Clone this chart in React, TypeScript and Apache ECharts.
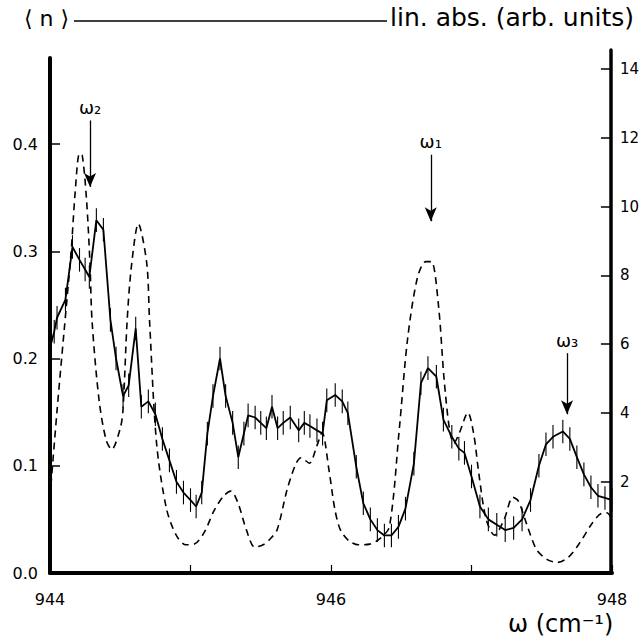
import React, { useEffect, useRef } from "react";
import * as echarts from "echarts";

// Photon-number signal <n> (left axis), sampled points with error bars
const solidX = [
  944.0, 944.03, 944.05, 944.11, 944.16, 944.21, 944.25, 944.28, 944.33, 944.38,
  944.43, 944.47, 944.52, 944.56, 944.61, 944.65, 944.7, 944.75, 944.8, 944.85,
  944.9, 944.95, 945.0, 945.04, 945.08, 945.12, 945.16, 945.21, 945.25, 945.3,
  945.34, 945.38, 945.41, 945.46, 945.5, 945.54, 945.58, 945.62, 945.66, 945.71,
  945.77, 945.81, 945.85, 945.9, 945.94, 945.97, 946.03, 946.08, 946.12, 946.18,
  946.23, 946.28, 946.33, 946.38, 946.43, 946.48, 946.53, 946.59, 946.64, 946.69,
  946.75, 946.8, 946.86, 946.91, 946.95, 947.0, 947.06, 947.12, 947.18, 947.24,
  947.3, 947.36, 947.42, 947.48, 947.53, 947.58, 947.65, 947.7, 947.75, 947.8,
  947.85, 947.9, 947.95, 948.0,
];
const solidY = [
  0.21, 0.225, 0.238, 0.255, 0.304, 0.292, 0.283, 0.276, 0.329, 0.32,
  0.236, 0.2, 0.165, 0.175, 0.228, 0.155, 0.16, 0.148, 0.125, 0.105,
  0.085, 0.075, 0.068, 0.062, 0.075, 0.13, 0.165, 0.2, 0.165, 0.14,
  0.108, 0.13, 0.147, 0.145, 0.14, 0.135, 0.155, 0.135, 0.14, 0.145,
  0.133, 0.14, 0.137, 0.133, 0.13, 0.161, 0.166, 0.16, 0.149, 0.099,
  0.065, 0.05, 0.04, 0.035, 0.035, 0.043, 0.06, 0.102, 0.177, 0.191,
  0.183, 0.143, 0.127, 0.116, 0.112, 0.09, 0.062, 0.05, 0.045, 0.04,
  0.042, 0.05, 0.068, 0.1, 0.12, 0.127, 0.132, 0.125, 0.108, 0.092,
  0.08, 0.072, 0.07, 0.068,
];
const ERR = 0.011;

// Linear absorption (right axis, arb. units)
const dashX = [
  944.0, 944.05, 944.1, 944.15, 944.18, 944.21, 944.23, 944.26, 944.285, 944.3,
  944.35, 944.4, 944.44, 944.5, 944.52, 944.55, 944.58, 944.63, 944.69, 944.71,
  944.76, 944.83, 944.9, 944.97, 945.03, 945.1, 945.17, 945.24, 945.29, 945.34,
  945.4, 945.46, 945.52, 945.57, 945.62, 945.69, 945.75, 945.79, 945.85, 945.9,
  945.94, 945.99, 946.03, 946.07, 946.13, 946.2, 946.28, 946.35, 946.42, 946.49,
  946.55, 946.62, 946.68, 946.72, 946.77, 946.81, 946.85, 946.88, 946.92, 946.98,
  947.02, 947.06, 947.11, 947.17, 947.24, 947.3, 947.34, 947.4, 947.47, 947.55,
  947.62, 947.7, 947.78, 947.86, 947.93, 947.97, 948.0,
];
const dashY = [
  1.55, 4.06, 6.36, 8.66, 10.44, 11.54, 11.49, 10.23, 8.35, 6.67,
  4.37, 3.22, 2.94, 3.54, 4.06, 6.67, 8.24, 9.5, 8.35, 6.67,
  3.12, 1.23, 0.45, 0.17, 0.19, 0.53, 1.16, 1.6, 1.73, 1.39,
  0.61, 0.1, 0.17, 0.34, 0.61, 1.76, 2.49, 2.7, 2.54, 3.01,
  3.43, 2.33, 1.23, 0.61, 0.29, 0.17, 0.19, 0.34, 0.69, 3.49,
  6.15, 7.93, 8.4, 8.4, 7.14, 5.0, 3.49, 3.12, 3.43, 4.01,
  3.43, 2.18, 0.92, 0.45, 0.92, 1.55, 1.44, 0.76, 0.03, -0.27,
  -0.34, -0.18, 0.24, 0.76, 1.08, 1.1, 0.97,
];

// Resonance markers: position, arrow start and tip (left-axis units)
const arrowNames = ["ω₁", "ω₂", "ω₃"];
const arrowX = [946.71, 944.285, 947.68];
const arrowTop = [0.39, 0.422, 0.205];
const arrowTip = [0.328, 0.36, 0.148];

const xTicks = [944, 945, 946, 947, 948];
const xLabels = [944, 946, 948];
const leftTicks = [0, 0.1, 0.2, 0.3, 0.4];
const rightTicks = [2, 4, 6, 8, 10, 12, 14];

const FONT = "DejaVu Sans";

export default function App() {
  const ref = useRef<HTMLDivElement>(null);

  useEffect(() => {
    if (!ref.current) return;
    document.body.style.margin = "0";
    const chart = echarts.init(ref.current, undefined, { renderer: "svg" });

    const solid = solidX.map((x, i) => [x, solidY[i]]);
    const dashed = dashX.map((x, i) => [x, dashY[i]]);

    const axisText = { color: "#000", fontSize: 16, fontFamily: FONT };

    const option: any = {
      animation: false,
      backgroundColor: "#fff",
      grid: [
        { left: 50, right: 30, top: 58, bottom: 67 },
        { left: 50, right: 30, top: 50, bottom: 67 },
      ],
      xAxis: [
        {
          type: "value",
          gridIndex: 0,
          min: 944,
          max: 948,
          axisLine: { show: true, lineStyle: { color: "#000", width: 4 } },
          axisTick: {
            show: true,
            inside: true,
            length: 8,
            customValues: xTicks,
            lineStyle: { color: "#000", width: 1.2 },
          },
          axisLabel: {
            ...axisText,
            margin: 18,
            customValues: xLabels,
            formatter: (v: number) => String(v),
          },
          splitLine: { show: false },
        },
        { type: "value", gridIndex: 1, min: 944, max: 948, show: false },
      ],
      yAxis: [
        {
          type: "value",
          gridIndex: 0,
          position: "left",
          min: 0,
          max: 0.4802,
          axisLine: { show: true, lineStyle: { color: "#000", width: 4 } },
          axisTick: {
            show: true,
            inside: true,
            length: 10,
            customValues: leftTicks.slice(1),
            lineStyle: { color: "#000", width: 1.5 },
          },
          axisLabel: {
            ...axisText,
            margin: 12,
            customValues: leftTicks,
            formatter: (v: number) => v.toFixed(1),
          },
          splitLine: { show: false },
        },
        {
          type: "value",
          gridIndex: 1,
          position: "right",
          min: -0.65,
          max: 14.55,
          axisLine: { show: true, lineStyle: { color: "#000", width: 3.5 } },
          axisTick: {
            show: true,
            inside: true,
            length: 10,
            customValues: rightTicks,
            lineStyle: { color: "#000", width: 1.5 },
          },
          axisLabel: {
            ...axisText,
            fontSize: 15,
            margin: 9,
            customValues: rightTicks,
            formatter: (v: number) => String(v),
          },
          splitLine: { show: false },
        },
      ],
      series: [
        {
          type: "line",
          xAxisIndex: 1,
          yAxisIndex: 1,
          data: dashed,
          showSymbol: false,
          smooth: 0.3,
          lineStyle: { color: "#000", width: 1.6, type: [7, 5] },
          silent: true,
        },
        {
          type: "line",
          xAxisIndex: 0,
          yAxisIndex: 0,
          data: solid,
          showSymbol: false,
          lineStyle: { color: "#000", width: 1.8 },
          silent: true,
          markLine: {
            silent: true,
            symbol: ["none", "arrow"],
            symbolSize: [9, 14],
            lineStyle: { color: "#000", width: 1.3, type: "solid" },
            label: {
              show: true,
              position: "start",
              formatter: "{b}",
              color: "#000",
              fontSize: 18,
              fontFamily: FONT,
              distance: 4,
            },
            data: arrowX.map((x, i) => [
              { name: arrowNames[i], coord: [x, arrowTop[i]] },
              { coord: [x, arrowTip[i]] },
            ]),
          },
        },
        {
          type: "custom",
          xAxisIndex: 0,
          yAxisIndex: 0,
          data: solid,
          silent: true,
          renderItem: (_params: any, api: any) => {
            const x = api.value(0);
            const y = api.value(1);
            const a = api.coord([x, y - ERR]);
            const b = api.coord([x, y + ERR]);
            return {
              type: "line",
              shape: { x1: a[0], y1: a[1], x2: b[0], y2: b[1] },
              style: { stroke: "#000", lineWidth: 1.1 },
            };
          },
        },
      ],
      graphic: [
        {
          type: "text",
          left: 24,
          top: 7,
          style: { text: "⟨ n ⟩", fontSize: 22, fontFamily: FONT, fill: "#000" },
        },
        {
          type: "line",
          shape: { x1: 74, y1: 21, x2: 387, y2: 21 },
          style: { stroke: "#000", lineWidth: 1.3 },
        },
        {
          type: "text",
          left: 390,
          top: 5,
          style: {
            text: "lin. abs. (arb. units)",
            fontSize: 25,
            fontFamily: FONT,
            fill: "#000",
          },
        },
        {
          type: "text",
          left: 508,
          top: 612,
          style: { text: "ω (cm⁻¹)", fontSize: 24, fontFamily: FONT, fill: "#000" },
        },
      ],
    };

    chart.setOption(option);
    return () => chart.dispose();
  }, []);

  return <div ref={ref} style={{ width: 642, height: 640 }} />;
}
